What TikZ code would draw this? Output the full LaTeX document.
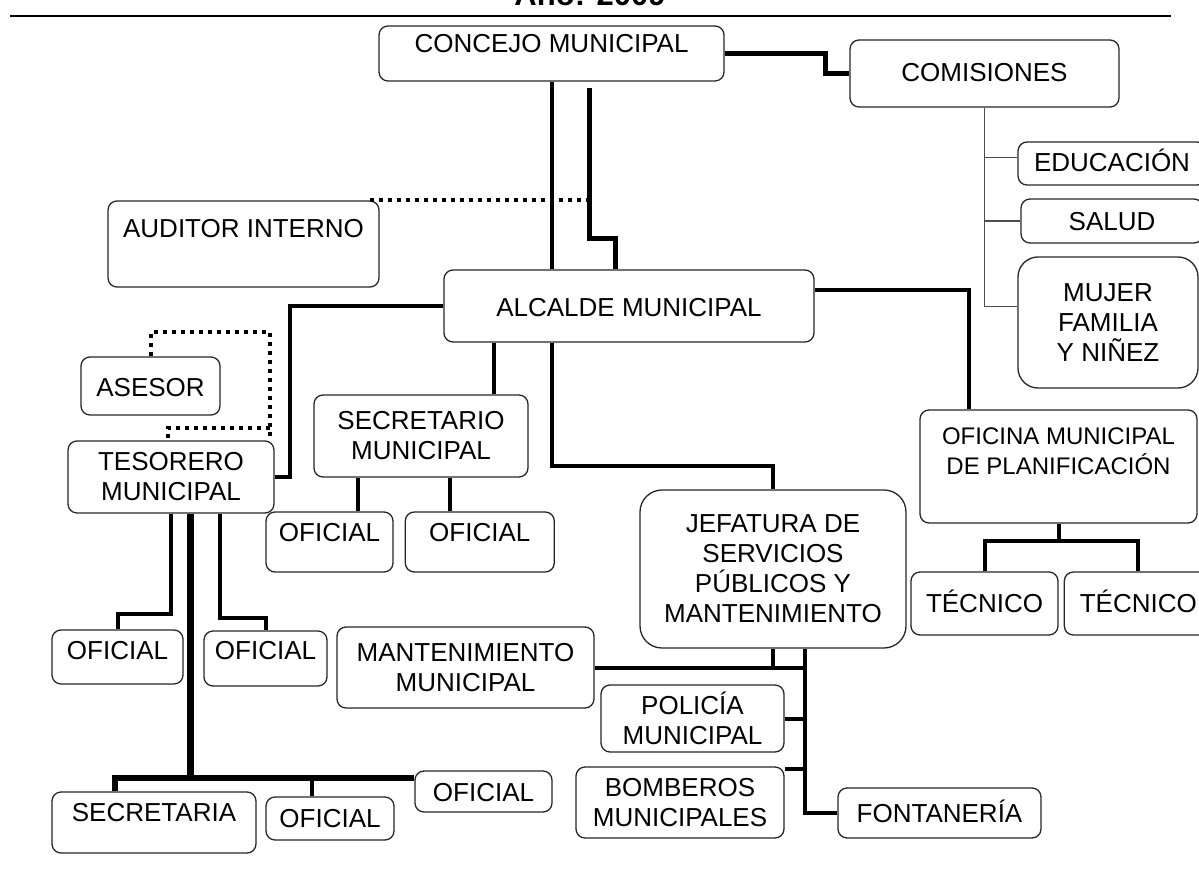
\documentclass[tikz,border=0pt]{standalone}
\usepackage{fontspec}
\setmainfont{Liberation Sans}
\usetikzlibrary{positioning}

\tikzset{
  unidad/.style={draw=black!85, line width=1.3pt, rounded corners=9pt, inner sep=0pt,
    align=center, font=\fontsize{26}{30}\selectfont},
  tronco/.style={line width=4pt},
  grueso/.style={line width=7pt},
  fino/.style={line width=1.5pt, black!70},
  punteado/.style={line width=4pt, dash pattern=on 4pt off 5pt},
}

\begin{document}
\begin{tikzpicture}[x=1pt, y=-1pt]
\useasboundingbox (0,0) rectangle (1199,869);

\node[font=\fontsize{31}{36}\selectfont\bfseries, anchor=base] (titulo) at (590,6) {Año: 2009};
\draw[line width=2.5pt] (10,16) -- (1171,16);

% concejo y comisiones
\node[unidad, minimum width=345pt, text height=27pt, text depth=28pt] (concejo) at (551.5,53.5) {CONCEJO MUNICIPAL};
\node[unidad, minimum width=269pt, text height=42pt, text depth=25pt] (comisiones) at (984.5,73.5) {COMISIONES};
\node[unidad, minimum width=188pt, text height=30pt, text depth=13pt] (educacion) at (1112,163.5) {EDUCACIÓN};
\node[unidad, minimum width=182pt, text height=31pt, text depth=13pt] (salud) at (1112,221) {SALUD};
\node[unidad, rounded corners=20pt, minimum width=180pt, minimum height=131pt] (mujer) at (1108,322.5) {MUJER\\FAMILIA\\Y NIÑEZ};
\node[unidad, minimum width=271pt, text height=36pt, text depth=50pt] (auditor) at (243.5,244) {AUDITOR INTERNO};

% alcalde
\node[unidad, minimum width=370pt, text height=46pt, text depth=26pt] (alcalde) at (629,306) {ALCALDE MUNICIPAL};
\node[unidad, minimum width=139pt, text height=39pt, text depth=19pt] (asesor) at (150.5,386) {ASESOR};
\node[unidad, minimum width=206pt, minimum height=72pt] (tesorero) at (171,477) {TESORERO\\MUNICIPAL};
\node[unidad, minimum width=214pt, minimum height=82pt] (secretario) at (421,436) {SECRETARIO\\MUNICIPAL};
\node[unidad, minimum width=127pt, text height=29pt, text depth=31pt] (ofs1) at (329.5,542) {OFICIAL};
\node[unidad, minimum width=149pt, text height=29pt, text depth=31pt, right=11pt of ofs1] (ofs2) {OFICIAL};
\node[unidad, minimum width=277pt, minimum height=113pt, font=\fontsize{24}{30}\selectfont] (oficina) at (1058.5,466.5) {OFICINA MUNICIPAL\\DE PLANIFICACIÓN\\\mbox{}};
\node[unidad, minimum width=147pt, text height=40pt, text depth=23pt] (tec1) at (984.5,603.5) {TÉCNICO};
\node[unidad, minimum width=148pt, text height=40pt, text depth=23pt, right=5pt of tec1] (tec2) {TÉCNICO};

% servicios publicos
\node[unidad, rounded corners=22pt, minimum width=266pt, minimum height=158pt] (jefatura) at (773,569) {JEFATURA DE\\SERVICIOS\\PÚBLICOS Y\\MANTENIMIENTO};
\node[unidad, minimum width=257pt, minimum height=81pt] (mant) at (465.5,667.5) {MANTENIMIENTO\\MUNICIPAL};
\node[unidad, minimum width=183pt, minimum height=67pt] (policia) at (692.5,718.5) {POLICÍA\\MUNICIPAL};
\node[unidad, minimum width=208pt, minimum height=71pt] (bomberos) at (680,802.5) {BOMBEROS\\MUNICIPALES};
\node[unidad, minimum width=203pt, text height=34pt, text depth=16pt] (fontaneria) at (939.5,813) {FONTANERÍA};

% tesoreria
\node[unidad, minimum width=131pt, text height=29pt, text depth=25pt] (oft1) at (117.5,657) {OFICIAL};
\node[unidad, minimum width=123pt, text height=28pt, text depth=27pt] (oft2) at (265.5,658.5) {OFICIAL};
\node[unidad, minimum width=204pt, text height=29pt, text depth=32pt] (secretaria) at (154,822.5) {SECRETARIA};
\node[unidad, minimum width=128pt, text height=30pt, text depth=13pt] (ofb2) at (330,818.5) {OFICIAL};
\node[unidad, minimum width=137pt, text height=30pt, text depth=11pt] (ofb3) at (483.5,791.5) {OFICIAL};

% lineas
\draw[tronco] (concejo.south) -- (concejo.south |- alcalde.north);
\draw[tronco, line width=5pt] ([xshift=38pt]concejo.south) ++(0,6) -- ++(0,151) -| ([xshift=-14pt]alcalde.north);
\draw[tronco, line width=5pt] (concejo.east) -- ++(101,0) |- (comisiones.west);
\draw[punteado] ([xshift=-10pt]auditor.north east) -- ([xshift=38pt]auditor.north -| concejo.south);
\draw[fino] (comisiones.south) |- ([yshift=16pt]mujer.west);
\draw[fino] ([yshift=6pt]educacion.west) -- ([yshift=6pt]educacion.west -| comisiones.south);
\draw[fino] (salud.west) -- (salud.west -| comisiones.south);

\draw[tronco] ([yshift=16pt]alcalde.east) -| ([xshift=-89.5pt]oficina.north);
\draw[tronco] (alcalde.west) -| ([xshift=15pt]tesorero.east) -- (tesorero.east);
\draw[tronco] ([xshift=73pt]secretario.north) -- ([xshift=73pt]secretario.north |- alcalde.south);
\draw[tronco] ([xshift=-77pt]alcalde.south) -- ++(0,123) -| (jefatura.north);
\draw[punteado] (asesor.north) -- ++(0,-24) -| ([xshift=99pt]tesorero.north) ++(0,-12) -| ([xshift=-3pt]tesorero.north);
\draw[tronco] ([xshift=28pt]ofs1.north) -- ([xshift=28pt]ofs1.north |- secretario.south);
\draw[tronco] ([xshift=-30pt]ofs2.north) -- ([xshift=-30pt]ofs2.north |- secretario.south);
\draw[tronco] (tec1.north) |- ([yshift=-17pt]oficina.south) -| (tec2.north);
\draw[tronco] (oficina.south) -- ++(0,17);

\draw[tronco] (tesorero.south) -- ++(0,100) -| (oft1.north);
\draw[tronco] ([xshift=49pt]tesorero.south) -- ++(0,104) -| (oft2.north);
\draw[grueso] ([xshift=19pt]tesorero.south) -- ++(0,264);
\draw[tronco, line width=6pt] ([xshift=-39pt]secretaria.north) |- ([yshift=14pt]ofb3.west);
\draw[tronco] ([xshift=-18pt]ofb2.north) -- ++(0,-20);

\draw[tronco] (jefatura.south) |- (mant.east);
\draw[tronco] ([xshift=32pt]jefatura.south) |- (fontaneria.west);
\draw[tronco] (mant.east) -- ([xshift=32pt]jefatura.south |- mant.east);
\draw[tronco] (policia.east) -- ([xshift=32pt]jefatura.south |- policia.east);
\draw[tronco] ([yshift=-3pt]bomberos.north east) -- ([yshift=-3pt,xshift=21pt]bomberos.north east);
\end{tikzpicture}
\end{document}
